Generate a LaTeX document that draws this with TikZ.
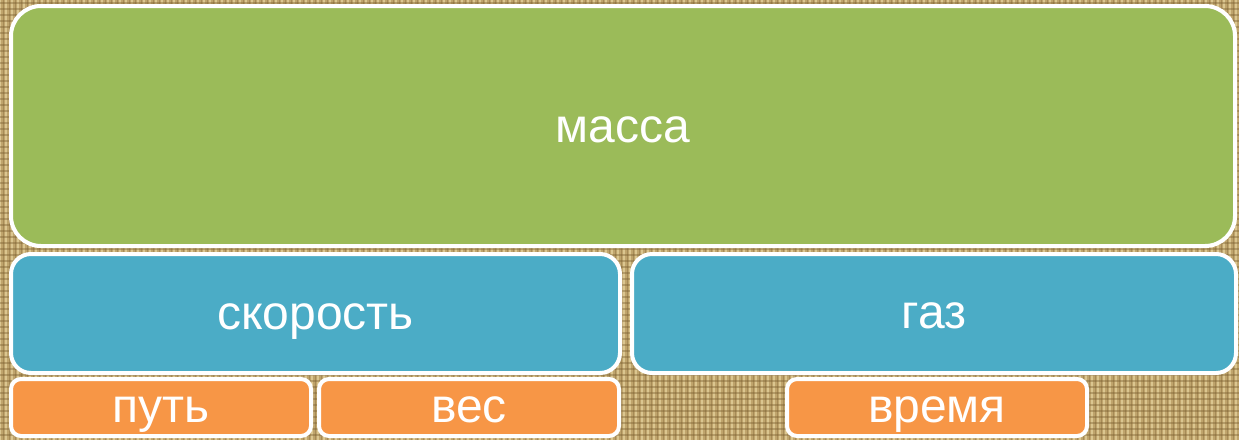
\documentclass[tikz,border=0pt]{standalone}
\usepackage{fontspec}
\setmainfont{Liberation Sans}
\definecolor{burlap}{HTML}{BFA46C}
\definecolor{burlapdark}{HTML}{7A5E30}
\definecolor{burlaplight}{HTML}{EEDDA8}
\definecolor{sgreen}{HTML}{9BBB59}
\definecolor{sblue}{HTML}{4BACC6}
\definecolor{sorange}{HTML}{F79646}
\tikzset{
  box/.style={draw=white, line width=4pt, text=white, inner sep=0pt,
    font=\fontsize{48}{48}\selectfont, text height=24.9pt, text depth=0pt},
  greenbox/.style={box, fill=sgreen, rounded corners=30pt},
  bluebox/.style={box, fill=sblue, rounded corners=20pt},
  orangebox/.style={box, fill=sorange, rounded corners=10pt},
  lbl/.style={text=white, inner sep=0pt, font=\fontsize{48}{48}\selectfont,
    text height=24.9pt, text depth=0pt},
}
\begin{document}
\begin{tikzpicture}[x=1pt,y=-1pt]
\useasboundingbox (0,0) rectangle (1239,440);
\fill[burlap] (0,0) rectangle (1239,440);
\foreach \x in {0,6,...,1236} {
  \draw[burlaplight, line width=1.8pt, opacity=0.6] (\x,0) -- (\x,440);
  \draw[burlapdark, line width=0.8pt, opacity=0.35] (\x+3,0) -- (\x+3,440);
}
\foreach \y in {3,9,...,438} {
  \draw[burlapdark, line width=1.2pt, opacity=0.4] (0,\y) -- (1239,\y);
}
\node[greenbox, minimum width=1224pt, minimum height=240pt] (massa) at (623,126) {};
\node[bluebox, minimum width=609pt, minimum height=119pt] (skorost) at (315.5,313.5) {};
\node[bluebox, minimum width=604pt, minimum height=119pt] (gaz) at (934,313.5) {};
\node[orangebox, minimum width=300pt, minimum height=57pt] (put) at (161,407.5) {};
\node[orangebox, minimum width=300pt, minimum height=57pt] (ves) at (469,407.5) {};
\node[orangebox, minimum width=300pt, minimum height=57pt] (vremya) at (937,407.5) {};
\node[lbl] (tmassa) at ([yshift=-4pt]massa.center) {масса};
\node[lbl] (tskorost) at ([yshift=-4pt]skorost.center) {скорость};
\node[lbl] (tgaz) at ([yshift=-3pt]gaz.center) {газ};
\node[lbl] (tput) at ([yshift=-3pt]put.center) {путь};
\node[lbl] (tves) at ([yshift=-3pt]ves.center) {вес};
\node[lbl] (tvremya) at ([yshift=-3pt]vremya.center) {время};
\end{tikzpicture}
\end{document}
